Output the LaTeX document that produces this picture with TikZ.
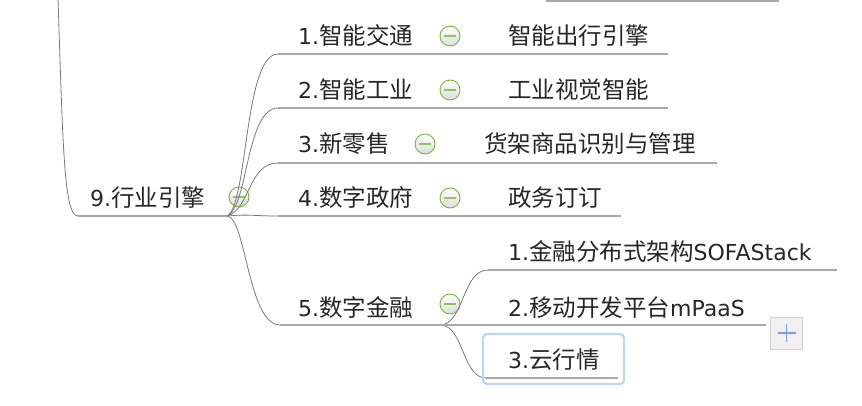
\documentclass[tikz,border=0pt]{standalone}
\usepackage{fontspec}
\usepackage{tikz}
\newfontfamily\cjk{Noto Sans CJK SC}
\newfontfamily\lat{DejaVu Sans}

\definecolor{txtgray}{HTML}{262626}
\definecolor{ulgray}{HTML}{A8A8A8}
\definecolor{lkgray}{HTML}{7A7A7A}
\definecolor{foldgreen}{HTML}{78B63E}
\definecolor{minusgreen}{HTML}{8CC65C}
\definecolor{selblue}{HTML}{BFD6F2}
\definecolor{plusblue}{HTML}{7E9BEA}

\tikzset{
  topic/.style={anchor=base west, inner sep=0pt, text=txtgray,
    font=\cjk\fontsize{23.5}{27}\selectfont},
  uline/.style={draw=ulgray, line width=1.7pt},
  link/.style={draw=lkgray, line width=0.8pt},
  fold/.style={circle, draw=foldgreen, line width=0.9pt, minimum size=20pt,
    inner sep=0pt, top color=white, bottom color=black!14,
    path picture={\draw[minusgreen, line width=2pt]
      ([xshift=-6pt]path picture bounding box.center) --
      ([xshift=6pt]path picture bounding box.center);}},
}
\newcommand{\ltn}[1]{{\lat\fontsize{22}{27}\selectfont #1}}

\begin{document}
\begin{tikzpicture}[x=1pt, y=-1pt]
	\useasboundingbox (0,0) rectangle (862,406);

	% line of the topic above
	\coordinate (topa) at (546,1);
	\coordinate (topb) at (779,1);
	\draw[uline] (topa) -- (topb);

	% 9
	\coordinate (up) at (58,-2);
	\coordinate (r0) at (78,216);
	\coordinate (b9) at (227,216);
	\draw[link] (up) .. controls (63,150) and (64,216) .. (r0);
	\draw[uline] (r0) -- (b9);
	\node [topic] (root) at (90,207) {\ltn{9.}行业引擎};
	\node [fold] (c9) at (239,197) {};

	% 1 - 4
	\coordinate (s1) at (278,54);  \coordinate (e1) at (668,54);
	\coordinate (s2) at (278,108); \coordinate (e2) at (668,108);
	\coordinate (s3) at (278,163); \coordinate (e3) at (717,163);
	\coordinate (s4) at (278,216); \coordinate (e4) at (621,216);
	\draw[link] (b9) .. controls (248,205) and (244,54) .. (s1);
	\draw[link] (b9) .. controls (248,208) and (246,108) .. (s2);
	\draw[link] (b9) .. controls (250,210) and (248,163) .. (s3);
	\draw[link] (b9) .. controls (250,214) and (252,216) .. (s4);
	\draw[uline] (s1) -- (e1);
	\draw[uline] (s2) -- (e2);
	\draw[uline] (s3) -- (e3);
	\draw[uline] (s4) -- (e4);

	\node [topic] (t1) at (298,45) {\ltn{1.}智能交通};
	\node [fold] (c1) at (450,36) {};
	\node [topic] (l1) at (508,45) {智能出行引擎};

	\node [topic] (t2) at (298,99) {\ltn{2.}智能工业};
	\node [fold] (c2) at (450,90) {};
	\node [topic] (l2) at (508,99) {工业视觉智能};

	\node [topic] (t3) at (298,153) {\ltn{3.}新零售};
	\node [fold] (c3) at (425,144) {};
	\node [topic] (l3) at (484,153) {货架商品识别与管理};

	\node [topic] (t4) at (298,207) {\ltn{4.}数字政府};
	\node [fold] (c4) at (450,198) {};
	\node [topic] (l4) at (508,207) {政务订订};

	% 5
	\coordinate (s5) at (280,325);
	\coordinate (b5) at (440,325);
	\draw[link] (b9) .. controls (246,217) and (248,325) .. (s5);
	\draw[uline] (s5) -- (b5);
	\node [topic] (t5) at (298,316) {\ltn{5.}数字金融};
	\node [fold] (c5) at (450,304) {};

	\coordinate (sf1) at (488,270); \coordinate (ef1) at (837,270);
	\coordinate (ef2) at (766,325);
	\coordinate (sf3) at (486,378); \coordinate (ef3) at (618,378);
	\draw[link] (b5) .. controls (464,325) and (462,270) .. (sf1);
	\draw[link] (b5) .. controls (464,325) and (462,378) .. (sf3);
	\draw[uline] (sf1) -- (ef1);
	\draw[uline] (b5) -- (ef2);
	\draw[uline] (sf3) -- (ef3);

	\node [topic] (f1) at (508,261) {\ltn{1.}金融分布式架构\ltn{SOFAStack}};
	\node [topic] (f2) at (508,316) {\ltn{2.}移动开发平台\ltn{mPaaS}};
	\node [topic] (f3) at (508,368) {\ltn{3.}云行情};

	% selection and plus
	\draw[selblue, line width=2.2pt, rounded corners=4pt] (483,334) rectangle (624,384);
	\node [draw=black!18, fill=black!6, minimum size=32pt, inner sep=0pt] (plus) at (786.5,333) {};
	\draw[plusblue, line width=1.8pt] ([xshift=-9pt]plus.center) -- ([xshift=9pt]plus.center);
	\draw[plusblue, line width=1.8pt] ([yshift=-9pt]plus.center) -- ([yshift=9pt]plus.center);
\end{tikzpicture}
\end{document}
